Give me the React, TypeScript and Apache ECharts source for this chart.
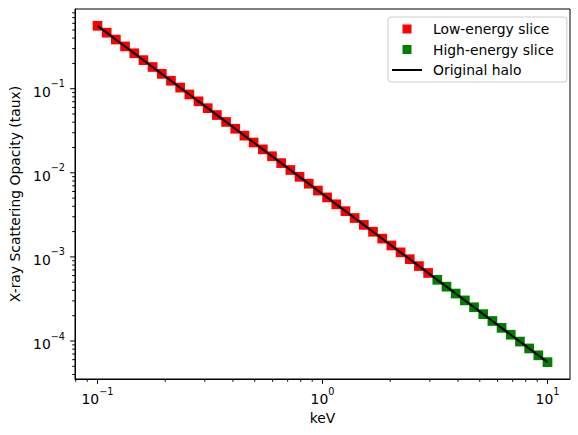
import { useEffect, useRef } from 'react';
import * as echarts from 'echarts';

// Energies (keV) and scattering opacity for the low-energy part of the grid
const lowEnergy = [
  0.1, 0.109854, 0.120679, 0.132571, 0.145635, 0.159986, 0.175751, 0.19307,
  0.212095, 0.232995, 0.255955, 0.281177, 0.308884, 0.339322, 0.372759,
  0.409492, 0.449843, 0.494171, 0.542868, 0.596362, 0.655129, 0.719686,
  0.790604, 0.868511, 0.954095, 1.048113, 1.151395, 1.264855, 1.389495,
  1.526418, 1.676833, 1.84207, 2.02359, 2.222996, 2.442053, 2.682696, 2.947052,
];
const lowTaux = [
  0.56, 0.46404, 0.384523, 0.318632, 0.264032, 0.218788, 0.181297, 0.150231,
  0.124488, 0.103156, 0.08548, 0.070832, 0.058694, 0.048636, 0.040302,
  0.033396, 0.027673, 0.022931, 0.019002, 0.015746, 0.013048, 0.010812,
  0.0089593, 0.007424, 0.0061519, 0.0050977, 0.0042242, 0.0035004, 0.0029006,
  0.0024036, 0.0019917, 0.0016504, 0.0013676, 0.0011333, 0.0009391, 0.00077812,
  0.00064478,
];

// High-energy part of the grid
const highEnergy = [
  3.237458, 3.55648, 3.90694, 4.291934, 4.714866, 5.179475, 5.689866,
  6.250552, 6.866488, 7.54312, 8.286428, 9.102982, 10,
];
const highTaux = [
  0.00053429, 0.00044274, 0.00036687, 0.000304, 0.00025191, 0.00020874,
  0.00017297, 0.00014333, 0.00011877, 0.000098418, 0.000081553, 0.000067578,
  0.000056,
];

// Tick positions (matplotlib-style log locators)
const xMajorTicks = [0.1, 1, 10];
const xMinorTicks = [
  0.08, 0.09, 0.2, 0.3, 0.4, 0.5, 0.6, 0.7, 0.8, 0.9, 2, 3, 4, 5, 6, 7, 8, 9,
];
const yMajorTicks = [1e-4, 1e-3, 1e-2, 1e-1];
const yMinorTicks = [
  4e-5, 5e-5, 6e-5, 7e-5, 8e-5, 9e-5,
  2e-4, 3e-4, 4e-4, 5e-4, 6e-4, 7e-4, 8e-4, 9e-4,
  2e-3, 3e-3, 4e-3, 5e-3, 6e-3, 7e-3, 8e-3, 9e-3,
  2e-2, 3e-2, 4e-2, 5e-2, 6e-2, 7e-2, 8e-2, 9e-2,
  0.2, 0.3, 0.4, 0.5, 0.6, 0.7, 0.8,
];

const X_MIN = 0.0794328;
const X_MAX = 12.58925;
const Y_MIN = 3.533e-5;
const Y_MAX = 0.8875;

const FONT = 'DejaVu Sans';

const pairs = (xs: number[], ys: number[]) => xs.map((x, i) => [x, ys[i]]);
const haloData = pairs([...lowEnergy, ...highEnergy], [...lowTaux, ...highTaux]);

function powLabel(v: number): string {
  const lg = Math.log10(v);
  const e = Math.round(lg);
  if (Math.abs(lg - e) > 1e-6) return '';
  return `{b|10}{s|${e < 0 ? '\u2212' : ''}${Math.abs(e)}}`;
}

const richLabel = {
  b: { fontFamily: FONT, fontSize: 13.9, color: '#000', lineHeight: 20, verticalAlign: 'bottom' },
  s: { fontFamily: FONT, fontSize: 9.7, color: '#000', lineHeight: 12, verticalAlign: 'top' },
};

function tickSeries(axis: 'x' | 'y', values: number[], len: number) {
  return {
    type: 'custom',
    silent: true,
    clip: false,
    z: 10,
    data: values.map((v) => (axis === 'x' ? [v, 0.01] : [1, v])),
    renderItem: (params: any, api: any) => {
      const cs = params.coordSys;
      const p = api.coord([api.value(0), api.value(1)]);
      if (axis === 'x') {
        const y0 = cs.y + cs.height;
        return {
          type: 'line',
          shape: { x1: p[0], y1: y0, x2: p[0], y2: y0 + len },
          style: { stroke: '#000', lineWidth: 1 },
        };
      }
      const x0 = cs.x;
      return {
        type: 'line',
        shape: { x1: x0 - len, y1: p[1], x2: x0, y2: p[1] },
        style: { stroke: '#000', lineWidth: 1 },
      };
    },
  };
}

export default function App() {
  const ref = useRef<HTMLDivElement>(null);

  useEffect(() => {
    const chart = echarts.init(ref.current!, null, { renderer: 'svg' });
    chart.setOption({
      animation: false,
      backgroundColor: '#fff',
      grid: {
        left: 73,
        top: 9,
        width: 497,
        height: 370,
        show: true,
        borderColor: '#000',
        borderWidth: 1,
        backgroundColor: 'transparent',
      },
      xAxis: {
        type: 'log',
        logBase: 10,
        min: X_MIN,
        max: X_MAX,
        name: 'keV',
        nameLocation: 'middle',
        nameGap: 31,
        nameTextStyle: { fontFamily: FONT, fontSize: 13.9, color: '#000' },
        axisLine: { show: true, lineStyle: { color: '#000', width: 1 } },
        axisTick: { show: false },
        splitLine: { show: false },
        axisLabel: {
          margin: 7,
          formatter: powLabel,
          rich: richLabel,
          showMinLabel: false,
          showMaxLabel: false,
        },
      },
      yAxis: {
        type: 'log',
        logBase: 10,
        min: Y_MIN,
        max: Y_MAX,
        name: 'X-ray Scattering Opacity (taux)',
        nameLocation: 'middle',
        nameGap: 53,
        nameTextStyle: { fontFamily: FONT, fontSize: 13.9, color: '#000' },
        axisLine: { show: true, lineStyle: { color: '#000', width: 1 } },
        axisTick: { show: false },
        splitLine: { show: false },
        axisLabel: {
          margin: 10,
          formatter: powLabel,
          rich: richLabel,
          showMinLabel: false,
          showMaxLabel: false,
        },
      },
      legend: {
        orient: 'vertical',
        left: 388,
        top: 17,
        padding: [5, 13, 5, 4],
        itemWidth: 30,
        itemHeight: 9,
        itemGap: 6.5,
        backgroundColor: 'rgba(255,255,255,0.8)',
        borderColor: '#cccccc',
        borderWidth: 1,
        borderRadius: 3,
        itemStyle: { opacity: 1 },
        textStyle: { fontFamily: FONT, fontSize: 13.9, color: '#000', padding: [0, 0, 0, 6] },
        data: [
          { name: 'Low-energy slice', icon: 'path://M0,0h10v10h-10z' },
          { name: 'High-energy slice', icon: 'path://M0,0h10v10h-10z' },
          { name: 'Original halo', icon: 'path://M0,0h30v2h-30z' },
        ],
      },
      series: [
        {
          name: 'Low-energy slice',
          type: 'scatter',
          symbol: 'rect',
          symbolSize: 9.7,
          itemStyle: { color: '#ff0000', opacity: 1 },
          data: pairs(lowEnergy, lowTaux),
        },
        {
          name: 'High-energy slice',
          type: 'scatter',
          symbol: 'rect',
          symbolSize: 9.7,
          itemStyle: { color: '#008000', opacity: 1 },
          data: pairs(highEnergy, highTaux),
        },
        {
          name: 'Original halo',
          type: 'line',
          symbol: 'none',
          showSymbol: false,
          z: 3,
          itemStyle: { color: '#000' },
          lineStyle: { color: '#000', width: 2.08 },
          data: haloData,
        },
        tickSeries('x', xMajorTicks, 4.86),
        tickSeries('x', xMinorTicks, 2.78),
        tickSeries('y', yMajorTicks, 4.86),
        tickSeries('y', yMinorTicks, 2.78),
      ],
    });
    return () => chart.dispose();
  }, []);

  return (
    <div
      ref={ref}
      style={{ position: 'absolute', left: 0, top: 0, width: 578, height: 435 }}
    />
  );
}
